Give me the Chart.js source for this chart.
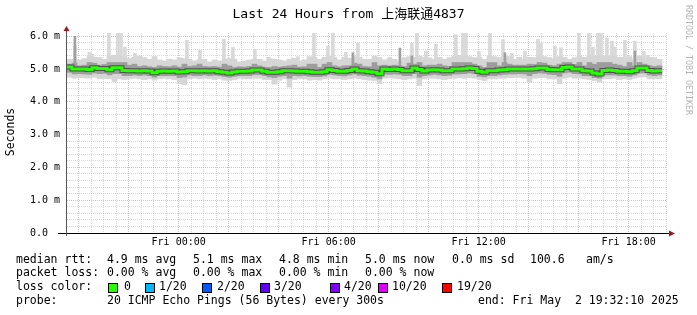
<!DOCTYPE html>
<html>
<head>
<meta charset="utf-8">
<script src="https://cdn.jsdelivr.net/npm/chart.js@4.4.1/dist/chart.umd.min.js"></script>
<style>
  body { margin: 0; background: #fff; }
</style>
</head>
<body>
<canvas id="c" width="697" height="315"></canvas>
<script>
// time axis in hours since Thu 00:00, graph ends Fri 19:32
const startHour = 19 + 32 / 60;
const endHour = startHour + 24;
const stepHours = 0.2;

// median rtt (ms), one value per 12 min step
const median = [
  5.06, 5.00, 5.00, 5.00, 4.99, 5.04, 5.02, 5.02, 4.98, 5.04,
  5.04, 4.96, 4.95, 4.95, 4.94, 4.95, 4.94, 4.89, 4.93, 4.94,
  4.93, 4.94, 4.91, 4.92, 4.95, 4.95, 4.94, 4.95, 4.94, 4.95,
  4.92, 4.90, 4.88, 4.91, 4.93, 4.93, 4.94, 4.97, 4.97, 4.93,
  4.90, 4.90, 4.92, 4.95, 4.95, 4.94, 4.93, 4.93, 4.92, 4.90,
  4.90, 4.92, 4.98, 4.96, 4.93, 4.93, 4.96, 5.00, 4.95, 4.94,
  4.92, 4.90, 4.86, 5.00, 4.99, 5.00, 4.99, 4.95, 4.95, 5.03,
  4.99, 4.94, 4.97, 4.98, 4.97, 4.95, 4.95, 5.00, 5.00, 5.01,
  5.03, 5.02, 4.93, 4.90, 4.95, 4.95, 4.97, 4.98, 5.00, 5.00,
  5.00, 5.00, 5.00, 5.01, 5.03, 5.03, 4.99, 4.98, 4.98, 5.05,
  5.06, 5.00, 5.00, 4.95, 4.94, 4.88, 4.85, 4.96, 4.97, 4.96,
  4.93, 4.93, 4.92, 4.95, 5.03, 5.03, 4.96, 4.94, 4.95
];

// top of the light smoke (without the single slow pings)
const maxRtt = [
  5.30, 5.30, 5.28, 5.32, 5.38, 5.36, 5.35, 5.30, 5.40, 5.42,
  5.40, 5.38, 5.32, 5.36, 5.40, 5.35, 5.30, 5.38, 5.28, 5.25,
  5.30, 5.28, 5.35, 5.32, 5.30, 5.25, 5.30, 5.30, 5.22, 5.28,
  5.25, 5.30, 5.32, 5.30, 5.22, 5.25, 5.28, 5.30, 5.30, 5.25,
  5.32, 5.30, 5.28, 5.25, 5.30, 5.33, 5.25, 5.28, 5.38, 5.35,
  5.30, 5.36, 5.40, 5.33, 5.28, 5.36, 5.33, 5.38, 5.36, 5.30,
  5.30, 5.40, 5.35, 5.28, 5.33, 5.30, 5.25, 5.35, 5.38, 5.36,
  5.40, 5.35, 5.34, 5.30, 5.36, 5.30, 5.35, 5.40, 5.42, 5.40,
  5.38, 5.35, 5.36, 5.30, 5.40, 5.38, 5.35, 5.40, 5.38, 5.30,
  5.36, 5.30, 5.36, 5.35, 5.40, 5.38, 5.35, 5.30, 5.38, 5.36,
  5.30, 5.35, 5.40, 5.36, 5.42, 5.40, 5.42, 5.40, 5.40, 5.38,
  5.36, 5.35, 5.38, 5.30, 5.40, 5.30, 5.36, 5.35, 5.30
];

// upper edge of the darker smoke
const highRtt = [
  5.15, 5.18, 5.10, 5.12, 5.20, 5.18, 5.12, 5.14, 5.20, 5.20,
  5.20, 5.20, 5.12, 5.15, 5.08, 5.10, 5.07, 5.05, 5.10, 5.08,
  5.07, 5.10, 5.06, 5.15, 5.08, 5.10, 5.15, 5.08, 5.07, 5.08,
  5.06, 5.15, 5.10, 5.05, 5.07, 5.06, 5.08, 5.15, 5.10, 5.06,
  5.05, 5.08, 5.06, 5.08, 5.10, 5.12, 5.06, 5.07, 5.15, 5.15,
  5.05, 5.15, 5.20, 5.10, 5.07, 5.10, 5.10, 5.18, 5.15, 5.08,
  5.07, 5.20, 5.10, 5.12, 5.10, 5.12, 5.10, 5.08, 5.18, 5.15,
  5.20, 5.10, 5.12, 5.12, 5.15, 5.10, 5.08, 5.20, 5.20, 5.20,
  5.20, 5.15, 5.10, 5.05, 5.20, 5.20, 5.10, 5.20, 5.15, 5.12,
  5.12, 5.12, 5.15, 5.14, 5.20, 5.18, 5.12, 5.10, 5.15, 5.20,
  5.20, 5.14, 5.20, 5.10, 5.20, 5.15, 5.20, 5.20, 5.20, 5.15,
  5.12, 5.08, 5.20, 5.10, 5.20, 5.15, 5.10, 5.08, 5.10
];

// lower edge of the darker smoke
const lowRtt = [
  4.90, 4.85, 4.86, 4.85, 4.84, 4.88, 4.86, 4.87, 4.82, 4.86,
  4.86, 4.80, 4.80, 4.82, 4.80, 4.82, 4.80, 4.75, 4.80, 4.80,
  4.80, 4.80, 4.74, 4.76, 4.82, 4.80, 4.80, 4.82, 4.80, 4.81,
  4.80, 4.77, 4.75, 4.78, 4.80, 4.80, 4.80, 4.83, 4.83, 4.80,
  4.76, 4.74, 4.78, 4.80, 4.72, 4.80, 4.79, 4.80, 4.78, 4.77,
  4.77, 4.79, 4.84, 4.82, 4.80, 4.79, 4.82, 4.85, 4.81, 4.80,
  4.78, 4.75, 4.70, 4.85, 4.84, 4.85, 4.84, 4.80, 4.80, 4.86,
  4.75, 4.80, 4.82, 4.84, 4.82, 4.80, 4.81, 4.85, 4.85, 4.86,
  4.88, 4.86, 4.78, 4.76, 4.80, 4.80, 4.82, 4.84, 4.85, 4.85,
  4.86, 4.85, 4.80, 4.86, 4.88, 4.87, 4.84, 4.83, 4.78, 4.88,
  4.90, 4.86, 4.85, 4.80, 4.80, 4.74, 4.72, 4.82, 4.82, 4.82,
  4.80, 4.80, 4.78, 4.82, 4.88, 4.88, 4.82, 4.80, 4.82
];

// fastest ping of each step (bottom of the light smoke)
const minRtt = [
  4.75, 4.72, 4.74, 4.73, 4.72, 4.75, 4.70, 4.71, 4.70, 4.62,
  4.70, 4.68, 4.70, 4.72, 4.70, 4.68, 4.70, 4.66, 4.70, 4.72,
  4.70, 4.68, 4.55, 4.52, 4.70, 4.72, 4.70, 4.72, 4.70, 4.68,
  4.70, 4.66, 4.65, 4.68, 4.72, 4.70, 4.70, 4.72, 4.72, 4.68,
  4.68, 4.54, 4.66, 4.70, 4.45, 4.68, 4.70, 4.70, 4.66, 4.68,
  4.66, 4.70, 4.72, 4.70, 4.70, 4.68, 4.70, 4.72, 4.70, 4.68,
  4.66, 4.65, 4.55, 4.72, 4.74, 4.72, 4.70, 4.68, 4.70, 4.72,
  4.50, 4.70, 4.72, 4.72, 4.70, 4.68, 4.70, 4.72, 4.74, 4.72,
  4.74, 4.72, 4.68, 4.65, 4.70, 4.70, 4.72, 4.72, 4.74, 4.74,
  4.74, 4.72, 4.60, 4.72, 4.74, 4.74, 4.70, 4.70, 4.55, 4.72,
  4.75, 4.72, 4.72, 4.70, 4.68, 4.65, 4.60, 4.70, 4.70, 4.72,
  4.68, 4.70, 4.68, 4.72, 4.75, 4.76, 4.70, 4.70, 4.70
];

// single slow pings (hours since Thu 00:00) and their rtt (ms)
const spikeHours = [
  19.85, 20.43, 20.55, 21.21, 21.57, 21.69, 21.85, 22.25, 24.33, 24.85,
  25.81, 26.17, 27.05, 27.61, 27.81, 28.77, 29.41, 29.97, 30.17, 30.25,
  30.69, 30.97, 31.17, 31.37, 32.45, 33.33, 33.53, 33.89, 34.29, 34.57,
  35.09, 35.37, 35.49, 36.01, 36.45, 36.97, 37.33, 37.85, 38.37, 38.49,
  39.05, 39.29, 40.01, 40.41, 40.57, 40.77, 40.89, 41.13, 41.33, 41.45,
  41.85, 42.25, 42.61, 42.77
];
const spikeTops = [
  5.70, 5.51, 5.45, 6.10, 6.10, 6.10, 5.67, 5.48, 5.88, 5.57,
  5.91, 5.66, 5.60, 5.36, 5.30, 5.38, 6.10, 5.70, 6.10, 5.36,
  5.51, 5.36, 5.79, 5.30, 5.36, 5.78, 6.10, 5.55, 5.76, 5.30,
  6.05, 6.10, 6.10, 5.54, 6.10, 5.90, 5.48, 5.54, 5.91, 5.80,
  5.70, 5.65, 6.10, 6.10, 5.67, 6.10, 6.10, 5.95, 5.85, 5.67,
  5.88, 5.85, 5.54, 5.42
];

// darker spikes where several pings were slow
const greySpikeHours = [19.85, 30.97, 32.85, 33.33, 37.05, 42.25];
const greySpikeTops = [6.00, 5.50, 5.64, 5.40, 5.50, 5.55];

const xLabelHours = [24, 30, 36, 42];
const yMax = 6.1;

const lossColors = ['#26ff00', '#00b8ff', '#0059ff', '#5e00ff', '#7e00ff', '#dd00ff', '#ff0000'];
const lossLabels = ['0', '1/20', '2/20', '3/20', '4/20', '10/20', '19/20'];

const MONO = '"DejaVu Sans Mono", "Noto Sans CJK SC", monospace';

function bandData(lo, hi) {
  return lo.map((v, i) => ({ x: startHour + stepHours * (i + 0.5), y: [v, hi[i]] }));
}

function stepData(vals) {
  const pts = vals.map((v, i) => ({ x: startHour + stepHours * i, y: v }));
  pts.push({ x: startHour + stepHours * vals.length, y: vals[vals.length - 1] });
  return pts;
}

// a spike rises from the median of the step it falls in
function spikeData(hours, tops) {
  return hours.map((h, i) => {
    const step = Math.min(median.length - 1, Math.floor((h - startHour) / stepHours));
    return { x: h, y: [median[step], tops[i]] };
  });
}

function isWhole(v) {
  return Math.abs(v - Math.round(v)) < 1e-6;
}

const rrdDecor = {
  id: 'rrdDecor',
  afterDatasetsDraw(chart) {
    const { ctx, chartArea: a } = chart;
    ctx.save();
    ctx.lineWidth = 1;
    ctx.strokeStyle = '#000';
    ctx.beginPath();
    ctx.moveTo(a.left - 9, a.bottom + 0.5);
    ctx.lineTo(a.right + 3, a.bottom + 0.5);
    ctx.stroke();
    ctx.strokeStyle = '#555';
    ctx.beginPath();
    ctx.moveTo(a.left - 0.5, a.bottom + 3);
    ctx.lineTo(a.left - 0.5, a.top - 3);
    ctx.stroke();

    ctx.fillStyle = '#9c1a1a';
    ctx.beginPath();
    ctx.moveTo(a.left - 0.5, a.top - 7);
    ctx.lineTo(a.left - 3.5, a.top - 2);
    ctx.lineTo(a.left + 2.5, a.top - 2);
    ctx.closePath();
    ctx.fill();
    ctx.beginPath();
    ctx.moveTo(a.right + 8, a.bottom + 0.5);
    ctx.lineTo(a.right + 2, a.bottom - 2.5);
    ctx.lineTo(a.right + 2, a.bottom + 3.5);
    ctx.closePath();
    ctx.fill();
    ctx.restore();
  },
  afterDraw(chart) {
    const ctx = chart.ctx;
    ctx.save();
    ctx.fillStyle = '#000';
    ctx.textBaseline = 'middle';

    ctx.font = '13px ' + MONO;
    ctx.textAlign = 'center';
    ctx.fillText('Last 24 Hours from 上海联通4837', 348.5, 15);

    ctx.save();
    ctx.translate(11, 132);
    ctx.rotate(-Math.PI / 2);
    ctx.font = '11.5px ' + MONO;
    ctx.fillText('Seconds', 0, 0);
    ctx.restore();

    ctx.save();
    ctx.translate(688, 5);
    ctx.rotate(Math.PI / 2);
    ctx.font = '8.3px ' + MONO;
    ctx.fillStyle = '#b4b4b4';
    ctx.textAlign = 'left';
    ctx.fillText('RRDTOOL / TOBI OETIKER', 0, 0);
    ctx.restore();

    ctx.textAlign = 'left';
    ctx.font = '11.5px ' + MONO;
    const rows = [
      [260, [[16, 'median rtt:'], [107, '4.9 ms avg'], [193, '5.1 ms max'], [279, '4.8 ms min'],
             [365, '5.0 ms now'], [452, '0.0 ms sd'], [530, '100.6'], [586, 'am/s']]],
      [273, [[16, 'packet loss:'], [107, '0.00 % avg'], [193, '0.00 % max'], [279, '0.00 % min'],
             [365, '0.00 % now']]],
      [287, [[16, 'loss color:']]],
      [301, [[16, 'probe:'], [107, '20 ICMP Echo Pings (56 Bytes) every 300s'],
             [478, 'end: Fri May  2 19:32:10 2025']]]
    ];
    rows.forEach(([y, items]) => items.forEach(([x, t]) => ctx.fillText(t, x, y)));

    const boxX = [108, 145, 202, 260, 330, 378, 442];
    const textX = [124, 159, 217, 274, 344, 392, 457];
    lossLabels.forEach((lab, i) => {
      ctx.fillStyle = lossColors[i];
      ctx.fillRect(boxX[i], 283, 10, 10);
      ctx.strokeStyle = '#000';
      ctx.lineWidth = 1;
      ctx.strokeRect(boxX[i] + 0.5, 283.5, 9, 9);
      ctx.fillStyle = '#000';
      ctx.fillText(lab, textX[i], 287);
    });
    ctx.restore();
  }
};

const gridDash = [1, 1];
const minorGrid = 'rgba(185,185,185,0.55)';
const majorGrid = 'rgba(225,130,130,0.6)';

new Chart(document.getElementById('c'), {
  type: 'bar',
  data: {
    datasets: [
      {
        type: 'line', label: 'median', data: stepData(median), order: 0,
        stepped: true, borderColor: '#26ff00', borderWidth: 3, pointRadius: 0
      },
      {
        type: 'line', label: 'core', data: stepData(median), order: 1,
        stepped: true, borderColor: 'rgba(45,45,45,0.7)', borderWidth: 5, pointRadius: 0
      },
      {
        label: 'mid smoke', data: bandData(lowRtt, highRtt), order: 2,
        backgroundColor: '#9d9d9d', borderWidth: 0, grouped: false, barThickness: 5
      },
      {
        label: 'grey spikes', data: spikeData(greySpikeHours, greySpikeTops), order: 3,
        backgroundColor: '#a0a0a0', borderWidth: 0, grouped: false, barThickness: 2
      },
      {
        label: 'light smoke', data: bandData(minRtt, maxRtt), order: 4,
        backgroundColor: '#d6d6d6', borderWidth: 0, grouped: false, barThickness: 5
      },
      {
        label: 'spikes', data: spikeData(spikeHours, spikeTops), order: 5,
        backgroundColor: '#d9d9d9', borderWidth: 0, grouped: false, barThickness: 3
      }
    ]
  },
  options: {
    responsive: false,
    animation: false,
    devicePixelRatio: 1,
    layout: { padding: { top: 33, right: 30, bottom: 62, left: 0 } },
    plugins: { legend: { display: false }, tooltip: { enabled: false }, title: { display: false } },
    scales: {
      x: {
        type: 'linear',
        min: startHour,
        max: endHour,
        offset: false,
        afterFit: s => { s.height = 20; },
        afterBuildTicks: s => {
          const ticks = [];
          for (let h = 20; h <= 43.5; h += 0.5) ticks.push({ value: h });
          s.ticks = ticks;
        },
        grid: {
          offset: false,
          drawTicks: false,
          lineWidth: 1,
          color: c => (c.tick && c.tick.value % 2 === 0) ? majorGrid : minorGrid
        },
        border: { display: false, dash: gridDash },
        ticks: {
          autoSkip: false,
          maxRotation: 0,
          padding: 3,
          color: '#000',
          font: { family: MONO, size: 10 },
          callback: v => xLabelHours.includes(v) ? 'Fri ' + String(v - 24).padStart(2, '0') + ':00' : ''
        }
      },
      y: {
        min: 0,
        max: yMax,
        afterFit: s => { s.width = 67; },
        afterBuildTicks: s => {
          const ticks = [];
          for (let k = 0; k <= 30; k++) ticks.push({ value: k / 5 });
          s.ticks = ticks;
        },
        grid: {
          drawTicks: false,
          lineWidth: 1,
          color: c => (c.tick && isWhole(c.tick.value)) ? majorGrid : minorGrid
        },
        border: { display: false, dash: gridDash },
        ticks: {
          autoSkip: false,
          padding: 7,
          color: '#000',
          font: { family: MONO, size: 10 },
          callback: v => !isWhole(v) ? '' : (Math.round(v) === 0 ? '0.0  ' : v.toFixed(1) + ' m')
        }
      }
    }
  },
  plugins: [rrdDecor]
});
</script>
</body>
</html>
